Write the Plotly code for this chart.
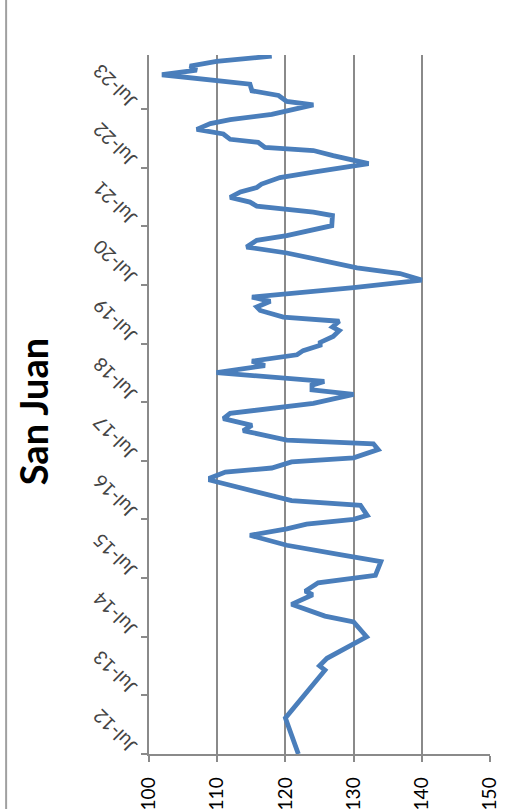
import plotly.graph_objects as go

dates = [
    "2012-07-01", "2013-02-10", "2013-12-05", "2014-01-01", "2014-02-17", "2014-05-10",
    "2014-07-01", "2014-10-01", "2014-11-07", "2015-01-19", "2015-03-20", "2015-04-11",
    "2015-06-02", "2015-07-19", "2015-10-12", "2015-11-25", "2016-01-22", "2016-03-24",
    "2016-05-03", "2016-06-02", "2016-07-01", "2016-07-26", "2016-09-27", "2016-10-26",
    "2017-01-01", "2017-02-10", "2017-03-02", "2017-03-16", "2017-04-22", "2017-05-17",
    "2017-06-24", "2017-07-19", "2017-09-09", "2017-10-15", "2017-11-07", "2017-12-27",
    "2018-01-04", "2018-02-07", "2018-03-09", "2018-03-20", "2018-04-22", "2018-05-21",
    "2018-06-24", "2018-08-18", "2018-09-16", "2018-10-15", "2018-11-07", "2019-01-01",
    "2019-02-14", "2019-03-13", "2019-04-22", "2019-05-18", "2019-06-20", "2019-07-08",
    "2019-08-14", "2019-09-20", "2019-10-12", "2019-11-17", "2019-12-13", "2020-01-23",
    "2020-02-14", "2020-03-20", "2020-04-15", "2020-06-13", "2020-07-30", "2020-09-09",
    "2020-10-15", "2021-01-15", "2021-02-21", "2021-04-04", "2021-05-03", "2021-07-04",
    "2021-09-05", "2021-09-27", "2021-11-03", "2021-11-28", "2021-12-27", "2022-01-30",
    "2022-02-27", "2022-03-20", "2022-04-30", "2022-06-02", "2022-07-26", "2022-09-13",
    "2022-10-15", "2022-11-03", "2022-12-05", "2022-12-24", "2023-01-26", "2023-02-24",
    "2023-04-01", "2023-04-26", "2023-05-28", "2023-07-26", "2023-08-17", "2023-09-23",
    "2023-10-22", "2023-12-02", "2023-12-27", "2024-01-30", "2024-02-28", "2024-03-24",
    "2024-04-22", "2024-05-25",
]
values = [
    121.9, 120.0, 125.8, 125.0, 126.1, 129.7,
    131.9, 130.0, 125.8, 120.9, 124.0, 122.9,
    124.8, 133.2, 134.0, 128.0, 120.2, 114.8,
    120.2, 123.1, 130.0, 132.0, 131.0, 120.9,
    114.8, 111.4, 109.0, 109.0, 111.2, 118.0,
    120.9, 130.0, 133.6, 132.9, 120.2, 114.8,
    113.8, 115.1, 111.6, 110.9, 111.9, 117.3,
    124.1, 130.0, 123.9, 123.9, 125.7, 109.9,
    117.0, 115.1, 121.7, 122.6, 125.1, 125.1,
    127.0, 127.9, 126.9, 127.9, 119.7, 116.3,
    115.8, 117.8, 115.1, 130.0, 140.0, 136.8,
    130.5, 120.2, 114.3, 115.8, 120.2, 126.8,
    126.9, 124.1, 115.8, 114.8, 111.9, 113.4,
    115.8, 116.5, 119.2, 124.1, 132.2, 127.0,
    124.1, 117.0, 116.0, 111.9, 110.9, 107.0,
    109.0, 111.9, 118.0, 124.1, 120.2, 119.0,
    115.1, 114.8, 109.9, 101.9, 107.0, 106.0,
    109.9, 118.0,
]
title_text = "San Juan"
value_range = [100, 150]
value_step = 10
date_range = ["2012-07-01", "2024-06-01"]
date_tick0 = "2012-07-01"

FONT = "Lato"
GRAY = "#8a8a8a"

fig = go.Figure()
fig.add_trace(go.Scatter(
    x=values, y=dates, mode="lines",
    line=dict(color="#4A7EBB", width=4.8),
    hoverinfo="skip", showlegend=False,
))

fig.update_layout(
    width=507, height=809,
    margin=dict(l=149, r=17, t=55, b=55, autoexpand=False),
    paper_bgcolor="white", plot_bgcolor="white",
    font=dict(family=FONT, color="#000000", size=19),
    xaxis=dict(
        range=value_range, dtick=value_step, tick0=value_range[0],
        showgrid=True, gridcolor=GRAY, gridwidth=1.5,
        showline=True, linecolor=GRAY, linewidth=1.5,
        ticks="outside", ticklen=6, tickcolor=GRAY, tickwidth=1.5,
        tickangle=-90, zeroline=False, fixedrange=True,
        ticklabelstandoff=8, automargin=False,
        tickfont=dict(size=19, family=FONT),
    ),
    yaxis=dict(
        type="date", range=date_range, tick0=date_tick0, dtick="M12",
        tickformat="%b-%y", showgrid=False,
        showline=True, linecolor=GRAY, linewidth=1.5,
        ticks="outside", ticklen=6, tickcolor=GRAY, tickwidth=1.5,
        tickangle=-135, zeroline=False, fixedrange=True,
        ticklabelposition="inside", ticklabelstandoff=-26,
        ticklabeloverflow="allow", automargin=False,
        tickfont=dict(size=19, family=FONT),
    ),
    annotations=[dict(
        text="<b>" + title_text + "</b>", xref="paper", yref="paper",
        x=-0.34, y=0.489, xanchor="center", yanchor="middle",
        textangle=-90, showarrow=False,
        font=dict(size=38, family=FONT, color="#000000"),
    )],
    shapes=[dict(
        type="line", xref="paper", yref="paper",
        x0=-0.419, x1=-0.419, y0=-0.1, y1=1.1,
        line=dict(color="#a0a0a0", width=2),
    )],
)

fig.write_html("out.html")
